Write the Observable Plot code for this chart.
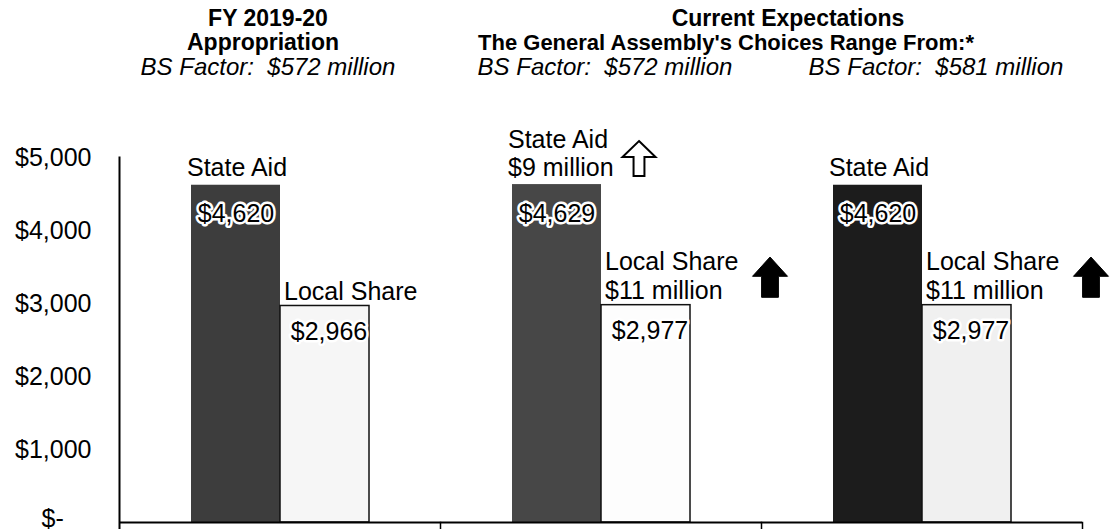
<!DOCTYPE html>
<html><head><meta charset="utf-8">
<script src="https://cdn.jsdelivr.net/npm/d3@7"></script>
<script src="https://cdn.jsdelivr.net/npm/@observablehq/plot@0.6"></script>
<style>
body{margin:0;background:#fff;}
#chart svg{display:block;}
</style></head><body><div id="chart"></div>
<script>
// ---- data ----
const groups = ["FY 2019-20 Appropriation", "Choice A", "Choice B"];
const series = ["State Aid", "Local Share"];
const stateAid = [4620, 4629, 4620];
const localShare = [2966, 2977, 2977];
const stateLabels = ["State Aid", "State Aid\n$9 million", "State Aid"];
const localLabels = ["Local Share", "Local Share\n$11 million", "Local Share\n$11 million"];
const stateFill = ["#3d3d3d", "#474747", "#1c1c1c"];
const localFill = ["#f6f6f6", "#fdfdfd", "#f0f0f0"];
const yTicks = [0, 1000, 2000, 3000, 4000, 5000];
const yTickLabels = ["$-\u00a0\u00a0\u00a0\u00a0", "$1,000", "$2,000", "$3,000", "$4,000", "$5,000"];
const titleCol1 = ["FY 2019-20", "Appropriation"];
const titleCol2 = ["Current Expectations", "The General Assembly's Choices Range From:*"];
const bsFactor = ["BS Factor:\u00a0 $572 million", "BS Factor:\u00a0 $572 million", "BS Factor:\u00a0 $581 million"];
const increases = [
  {group: groups[1], series: "State Aid", value: stateAid[1], kind: "hollow"},
  {group: groups[1], series: "Local Share", value: localShare[1], kind: "filled"},
  {group: groups[2], series: "Local Share", value: localShare[2], kind: "filled"}
];

const fmt = d3.format("$,");
const rows = groups.flatMap((g, i) => [
  {group: g, series: "State Aid", value: stateAid[i], label: stateLabels[i], fill: stateFill[i], text: fmt(stateAid[i])},
  {group: g, series: "Local Share", value: localShare[i], label: localLabels[i], fill: localFill[i], text: fmt(localShare[i])}
]);
const stateRows = rows.filter(d => d.series === "State Aid");
const localRows = rows.filter(d => d.series === "Local Share");

const filledArrow = {draw(ctx, size) {
  const r = Math.sqrt(size / Math.PI), h = r * 1.15, b = -0.05 * r, s = 0.48 * r;
  ctx.moveTo(0, -h); ctx.lineTo(r, b); ctx.lineTo(s, b); ctx.lineTo(s, h);
  ctx.lineTo(-s, h); ctx.lineTo(-s, b); ctx.lineTo(-r, b); ctx.closePath();
}};
const hollowArrow = {draw(ctx, size) {
  const r = Math.sqrt(size / Math.PI), h = r * 1.06, b = -0.1 * r, s = 0.33 * r;
  ctx.moveTo(0, -h); ctx.lineTo(r, b); ctx.lineTo(s, b); ctx.lineTo(s, h);
  ctx.lineTo(-s, h); ctx.lineTo(-s, b); ctx.lineTo(-r, b); ctx.closePath();
}};

const font = "Liberation Sans, Arial, Helvetica, sans-serif";
const T = {frameAnchor: "top", lineAnchor: "middle", fill: "#000"};
const B = {...T, fontStyle: "italic", fontSize: 24, dy: -90};
const tickText = d => yTickLabels[yTicks.indexOf(d)];
const A = {tickSize: 0, tickPadding: 28, fontSize: 25, fill: "#000", label: null, tickFormat: tickText};

const chart = Plot.plot({
  width: 1110, height: 529,
  marginLeft: 118, marginRight: 27, marginTop: 157, marginBottom: 7,
  style: {fontFamily: font, fontSize: "25px", color: "#000", background: "#fff"},
  fx: {domain: groups, padding: 0, axis: null},
  x: {domain: series, paddingInner: 0, paddingOuter: 0.79, axis: null},
  y: {domain: [0, 5000], axis: null},
  color: {type: "identity"},
  marks: [
    Plot.barY(stateRows, {fx: "group", x: "series", y: "value", fill: "fill"}),
    Plot.barY(localRows, {fx: "group", x: "series", y: "value", fill: "fill", stroke: "#111", strokeWidth: 1.5}),
    Plot.ruleY([0], {stroke: "#000", strokeWidth: 2}),
    Plot.frame({anchor: "left", facetAnchor: "left", insetBottom: -8, stroke: "#000", strokeWidth: 2}),
    Plot.frame({anchor: "right", insetTop: 365, insetBottom: -8, stroke: "#000", strokeWidth: 1.5}),
    Plot.axisY({...A, ticks: yTicks.slice(1)}),
    Plot.axisY({...A, ticks: yTicks.slice(0, 1), dy: -4}),
    // series labels
    Plot.text(stateRows, {fx: "group", x: "series", y: "value", text: "label", textAnchor: "start", lineAnchor: "bottom", dx: -49, dy: -9, lineHeight: 1.1, fontSize: 25, fill: "#000"}),
    Plot.text(localRows, {fx: "group", x: "series", y: "value", text: "label", textAnchor: "start", lineAnchor: "bottom", dx: -41, dy: -6, lineHeight: 1.18, fontSize: 25, fill: "#000"}),
    // value labels
    Plot.text(stateRows, {fx: "group", x: "series", y: "value", text: "text", dx: 0, dy: 29, fontSize: 25, fill: "#000", stroke: "#fff", strokeWidth: 5}),
    Plot.text(localRows, {fx: "group", x: "series", y: "value", text: "text", dx: 4, dy: 26, fontSize: 25, fill: "#000", stroke: "#fff", strokeWidth: 5}),
    // arrows
    Plot.dot(increases.filter(d => d.kind === "hollow"), {fx: "group", x: "series", y: "value", dx: 82, dy: -26, r: 16.5, symbol: hollowArrow, fill: "#fff", stroke: "#000", strokeWidth: 2}),
    Plot.dot(increases.filter(d => d.kind === "filled"), {fx: "group", x: "series", y: "value", dx: 124, dy: -28, r: 17.5, symbol: filledArrow, fill: "#000", stroke: "#000", strokeWidth: 1}),
    // titles
    Plot.text([titleCol1[0]], {...T, fx: () => groups[0], dx: -12, dy: -139, fontWeight: "bold", fontSize: 23}),
    Plot.text([titleCol1[1]], {...T, fx: () => groups[0], dx: -17, dy: -115, fontWeight: "bold", fontSize: 23}),
    Plot.text([titleCol2[0]], {...T, fx: () => groups[1], dx: 187, dy: -139, fontWeight: "bold", fontSize: 23}),
    Plot.text([titleCol2[1]], {...T, fx: () => groups[1], dx: 125, dy: -115, fontWeight: "bold", fontSize: 22}),
    Plot.text([bsFactor[0]], {...B, fx: () => groups[0], dx: -12}),
    Plot.text([bsFactor[1]], {...B, fx: () => groups[1], dx: 4}),
    Plot.text([bsFactor[2]], {...B, fx: () => groups[2], dx: 14})
  ]
});
document.getElementById("chart").appendChild(chart);
</script>
</body></html>
